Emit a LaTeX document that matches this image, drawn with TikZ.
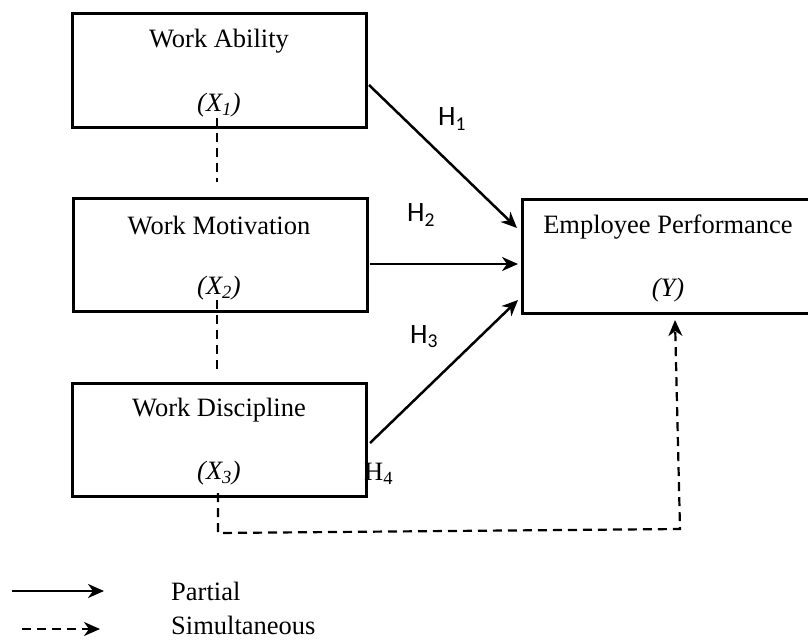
\documentclass[tikz,border=0pt]{standalone}
\usepackage{fontspec}
\setmainfont{Liberation Serif}
\newfontfamily\hfont{Carlito}
\usetikzlibrary{arrows.meta}
\begin{document}
\begin{tikzpicture}[x=1pt,y=-1pt,
  box/.style={draw,line width=3pt,minimum width=294pt,minimum height=113pt,inner sep=0pt},
  lbl/.style={font=\fontsize{26.5}{30}\selectfont,inner sep=0pt},
  hl/.style={font=\hfont\fontsize{28}{30}\selectfont,inner sep=0pt},
  arr/.style={line width=2.5pt,-{Stealth[length=16pt,width=14pt,inset=5pt]}},
  dsh/.style={line width=2.2pt,dash pattern=on 9pt off 6pt},
  darr/.style={dsh,-{Stealth[length=16pt,width=14pt,inset=5pt]}}]
\useasboundingbox (0,0) rectangle (808,642);
\node[box] (b1) at (219,70.5) {};
\node[box] (b2) at (220,254.5) {};
\node[box] (b3) at (219,440) {};
\node[box,minimum width=292pt,minimum height=114pt] (by) at (668,256) {};
\node[lbl] (t1) at (219,41) {Work Ability};
\node[lbl] (x1) at (219,105) {\textit{(X\textsubscript{1})}};
\node[lbl] (t2) at (219,226) {Work Motivation};
\node[lbl] (x2) at (219,288) {\textit{(X\textsubscript{2})}};
\node[lbl] (t3) at (219,410) {Work Discipline};
\node[lbl] (x3) at (219,473) {\textit{(X\textsubscript{3})}};
\node[lbl] (ty) at (668,227) {Employee Performance};
\node[lbl] (xy) at (668,290) {\textit{(Y)}};
\node[hl] (h1) at (452,119) {H\textsubscript{1}};
\node[hl] (h2) at (421,215) {H\textsubscript{2}};
\node[hl] (h3) at (424,337) {H\textsubscript{3}};
\node[lbl,anchor=west] (h4) at (364,474) {H\textsubscript{4}};
% solid arrows
\coordinate (s1) at (369,85);
\coordinate (e1) at (517,228);
\coordinate (s2) at (370,264);
\coordinate (e2) at (518,264);
\coordinate (s3) at (370,443);
\coordinate (e3) at (518,300);
\draw[arr] (s1) -- (e1);
\draw[arr] (s2) -- (e2);
\draw[arr] (s3) -- (e3);
% dashed links
\coordinate (d1a) at (217,118);
\coordinate (d1b) at (217,182);
\coordinate (d2a) at (217,300);
\coordinate (d2b) at (217,372);
\coordinate (d3a) at (218,493);
\coordinate (d3b) at (218,533);
\coordinate (d3c) at (680,529);
\coordinate (d3d) at (675,320);
\draw[dsh] (d1a) -- (d1b);
\draw[dsh] (d2a) -- (d2b);
\draw[darr] (d3a) -- (d3b) -- (d3c) -- (d3d);
% legend
\coordinate (l1a) at (12,591);
\coordinate (l1b) at (104,591);
\coordinate (l2a) at (22,629);
\coordinate (l2b) at (100,629);
\draw[arr] (l1a) -- (l1b);
\draw[darr] (l2a) -- (l2b);
\node[lbl,anchor=west] (lp) at (171,591) {Partial};
\node[lbl,anchor=west] (ls) at (171,625) {Simultaneous};
\end{tikzpicture}
\end{document}
